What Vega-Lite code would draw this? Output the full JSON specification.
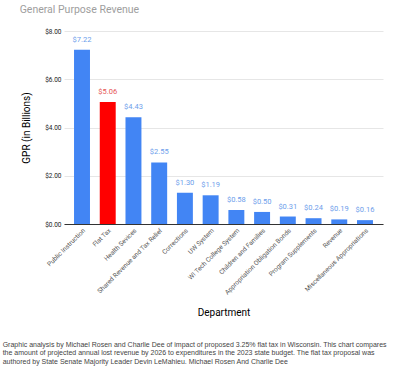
{
  "$schema": "https://vega.github.io/schema/vega-lite/v6.json",
  "background": "white",
  "padding": {"left": 2, "top": 4, "right": 5, "bottom": 2},
  "title": {"text": "General Purpose Revenue", "anchor": "start", "frame": "bounds", "fontSize": 10.5, "font": "Roboto", "fontWeight": "normal", "color": "#9e9e9e", "dx": 17, "offset": 13},
  "config": {"view": {"stroke": null}, "concat": {"spacing": 0}},
  "vconcat": [
    {
      "width": 319,
      "height": 193,
      "title": {
        "text": [
          "Graphic analysis by Michael Rosen and Charlie Dee of impact of proposed 3.25% flat tax in Wisconsin. This chart compares",
          "the amount of projected annual lost revenue by 2026 to expenditures in the 2023 state budget. The flat tax proposal was",
          "authored by State Senate Majority Leader Devin LeMahieu. Michael Rosen And Charlie Dee"
        ],
        "orient": "bottom", "anchor": "start", "frame": "bounds", "fontSize": 7, "font": "Liberation Sans", "fontWeight": "normal", "color": "#444444", "lineHeight": 8.7, "offset": 23, "dx": -19
      },
      "data": {
        "values": [
          {"dept": "Public Instruction", "gpr": 7.22},
          {"dept": "Flat Tax", "gpr": 5.06},
          {"dept": "Health Sevices", "gpr": 4.43},
          {"dept": "Shared Revenue and Tax Relief", "gpr": 2.55},
          {"dept": "Corrections", "gpr": 1.30},
          {"dept": "UW System", "gpr": 1.19},
          {"dept": "WI Tech College System", "gpr": 0.58},
          {"dept": "Children and Families", "gpr": 0.50},
          {"dept": "Appropriation Obligation Bonds", "gpr": 0.31},
          {"dept": "Program Supplements", "gpr": 0.24},
          {"dept": "Revenue", "gpr": 0.19},
          {"dept": "Miscellaneous Appropriations", "gpr": 0.16}
        ]
      },
      "encoding": {
        "x": {
          "field": "dept", "type": "nominal", "sort": null,
          "scale": {"paddingInner": 0.38, "paddingOuter": 0.39},
          "axis": {"title": "Department", "titleFont": "Roboto", "titleFontSize": 10, "titleFontWeight": "normal", "titleColor": "#000000", "titlePadding": 12,
                   "labelAngle": -45, "labelFont": "Roboto", "labelFontSize": 6.5, "labelColor": "#555555", "labelPadding": 3, "ticks": false,
                   "domainColor": "#333333", "labelLimit": 200}
        },
        "y": {
          "field": "gpr", "type": "quantitative",
          "scale": {"domain": [0, 8]},
          "axis": {"title": "GPR (in Billions)", "titleFont": "Roboto", "titleFontSize": 10, "titleFontWeight": "normal", "titleColor": "#000000", "titlePadding": 13,
                   "values": [0, 2, 4, 6, 8], "format": "$.2f", "labelFont": "Roboto", "labelFontSize": 6.5, "labelColor": "#222222", "labelPadding": 3,
                   "ticks": false, "domain": false, "gridColor": "#e6e6e6"}
        }
      },
      "layer": [
        {
          "mark": {"type": "bar"},
          "encoding": {
            "color": {"condition": {"test": "datum.dept === 'Flat Tax'", "value": "#ff0000"}, "value": "#4285f4"}
          }
        },
        {
          "mark": {"type": "text", "baseline": "bottom", "dy": -6, "font": "Roboto", "fontSize": 7.5},
          "encoding": {
            "text": {"field": "gpr", "type": "quantitative", "format": "$.2f"},
            "color": {"condition": {"test": "datum.dept === 'Flat Tax'", "value": "#e65555"}, "value": "#6d9eeb"}
          }
        }
      ]
    }
  ]
}
